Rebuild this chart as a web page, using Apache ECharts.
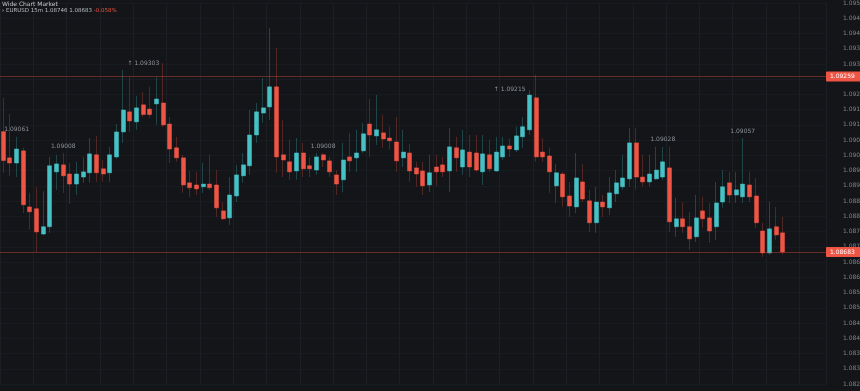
<!DOCTYPE html>
<html>
<head>
<meta charset="utf-8">
<script src="https://cdn.jsdelivr.net/npm/echarts@6/dist/echarts.min.js"></script>
<style>
html,body{margin:0;padding:0;background:#131518;}
#chart{width:860px;height:391px;}
</style>
</head>
<body>
<div id="chart"></div>
<script>
// ---- data ----
var opens = [1.09078,1.08992,1.08975,1.09015,1.08831,1.08825,1.08742,1.08766,1.08946,1.08969,
1.08939,1.08906,1.08929,1.08943,1.09002,1.08956,1.08943,1.08995,1.09077,1.09143,
1.09110,1.09166,1.09152,1.09169,1.09172,1.09103,1.09025,1.08992,1.08910,1.08903,
1.08897,1.08906,1.08903,1.08818,1.08795,1.08867,1.08933,1.08966,1.09067,1.09139,
1.09159,1.09225,1.09002,1.08979,1.08949,1.09008,1.08966,1.08952,1.09002,1.08982,
1.08936,1.08920,1.08995,1.08992,1.09015,1.09103,1.09064,1.09074,1.09057,1.09044,
1.08992,1.09008,1.08959,1.08949,1.08903,1.08962,1.08969,1.08949,1.09025,1.08962,
1.09011,1.09008,1.08946,1.09002,1.08949,1.08995,1.09031,1.09018,1.09061,1.09084,
1.09189,1.09011,1.08998,1.08900,1.08939,1.08867,1.08831,1.08913,1.08851,1.08779,
1.08847,1.08828,1.08874,1.08897,1.08923,1.09041,1.08929,1.08913,1.08923,1.08929,
1.08959,1.08766,1.08792,1.08766,1.08733,1.08818,1.08795,1.08766,1.08847,1.08910,
1.08870,1.08864,1.08903,1.08867,1.08752,1.08680,1.08766,1.08746];
var closes = [1.08983,1.08975,1.09021,1.08838,1.08815,1.08749,1.08766,1.08966,1.08972,1.08933,
1.08906,1.08939,1.08946,1.09005,1.08943,1.08939,1.09002,1.09077,1.09149,1.09113,
1.09156,1.09134,1.09134,1.09185,1.09100,1.09021,1.08992,1.08903,1.08894,1.08890,
1.08906,1.08894,1.08828,1.08792,1.08870,1.08936,1.08969,1.09067,1.09143,1.09156,
1.09225,1.08995,1.08985,1.08946,1.09008,1.08956,1.08956,1.08995,1.08985,1.08946,
1.08906,1.08985,1.08982,1.09008,1.09071,1.09067,1.09084,1.09054,1.09048,1.08982,
1.09011,1.08949,1.08939,1.08900,1.08943,1.08946,1.08946,1.09028,1.08992,1.09018,
1.08962,1.08952,1.09005,1.08956,1.09011,1.09031,1.09021,1.09064,1.09094,1.09198,
1.08995,1.08995,1.08946,1.08943,1.08864,1.08834,1.08926,1.08857,1.08779,1.08847,
1.08831,1.08877,1.08910,1.08926,1.09041,1.08929,1.08913,1.08939,1.08952,1.08979,
1.08782,1.08792,1.08766,1.08726,1.08795,1.08792,1.08752,1.08844,1.08897,1.08870,
1.08887,1.08906,1.08864,1.08779,1.08680,1.08759,1.08739,1.08683];
var lows = [1.08943,1.08933,1.08929,1.08811,1.08756,1.08683,1.08739,1.08746,1.08887,1.08877,
1.08841,1.08870,1.08910,1.08910,1.08913,1.08913,1.08913,1.08989,1.09041,1.09077,
1.09084,1.09126,1.09123,1.09100,1.09094,1.08975,1.08979,1.08877,1.08864,1.08870,
1.08877,1.08887,1.08798,1.08788,1.08772,1.08847,1.08910,1.08936,1.09041,1.09107,
1.09116,1.08943,1.08929,1.08920,1.08920,1.08929,1.08929,1.08936,1.08962,1.08929,
1.08870,1.08880,1.08946,1.08946,1.09008,1.08995,1.09034,1.09025,1.09018,1.08946,
1.08962,1.08913,1.08897,1.08870,1.08880,1.08900,1.08929,1.08880,1.08946,1.08936,
1.08929,1.08946,1.08903,1.08946,1.08946,1.08985,1.08995,1.09011,1.09025,1.09067,
1.08979,1.08979,1.08877,1.08844,1.08831,1.08798,1.08811,1.08847,1.08749,1.08746,
1.08798,1.08805,1.08847,1.08887,1.08897,1.08887,1.08897,1.08897,1.08920,1.08920,
1.08749,1.08733,1.08746,1.08690,1.08716,1.08762,1.08713,1.08723,1.08828,1.08844,
1.08844,1.08844,1.08847,1.08762,1.08667,1.08674,1.08723,1.08674];
var highs = [1.09189,1.09136,1.09061,1.09025,1.08877,1.08897,1.08883,1.08995,1.09002,1.09008,
1.08975,1.08979,1.08995,1.09057,1.09064,1.08985,1.09028,1.09103,1.09280,1.09257,
1.09195,1.09208,1.09225,1.09257,1.09303,1.09126,1.09061,1.09002,1.08949,1.08946,
1.08975,1.09002,1.08952,1.08847,1.08929,1.08969,1.09008,1.09149,1.09172,1.09254,
1.09418,1.09353,1.09116,1.09051,1.09057,1.09041,1.08995,1.09008,1.09008,1.08995,
1.08952,1.09041,1.09074,1.09084,1.09107,1.09185,1.09198,1.09133,1.09094,1.09126,
1.09084,1.09038,1.08979,1.08979,1.09002,1.09002,1.08995,1.09090,1.09061,1.09084,
1.09067,1.09067,1.09067,1.09051,1.09061,1.09061,1.09057,1.09094,1.09126,1.09215,
1.09264,1.09057,1.09025,1.08972,1.08946,1.08913,1.09008,1.08972,1.08887,1.08897,
1.08870,1.08929,1.08952,1.09002,1.09090,1.09090,1.09002,1.09002,1.09028,1.09028,
1.09028,1.08861,1.08847,1.08815,1.08870,1.08864,1.08844,1.08913,1.08952,1.08946,
1.08946,1.09057,1.08946,1.08926,1.08779,1.08847,1.08831,1.08798];
var refLevel = 1.09259;          // upper horizontal level
var annIdx = [2, 9, 24, 48, 79, 99, 111];   // candles carrying a small high label
var yMin = 1.0825, yMax = 1.0950, yStep = 0.0005;
var emptySlots = 6;              // blank space to the right of the last candle

// categories (15-minute bars)
var categories = [];
for (var i = 0; i < opens.length + emptySlots; i++) {
  var m = 9 * 60 + i * 15;
  var hh = Math.floor(m / 60) % 24, mm = m % 60;
  categories.push((hh < 10 ? '0' : '') + hh + ':' + (mm < 10 ? '0' : '') + mm);
}

var UP = '#46c2c6', DOWN = '#ef5545';
var wickData = opens.map(function (o, k) { return [o, closes[k], lows[k], highs[k]]; });
var bodyData = opens.map(function (o, k) {
  return [o, closes[k], Math.min(o, closes[k]), Math.max(o, closes[k])];
});
var lastClose = closes[closes.length - 1];

var markPts = annIdx.map(function (k) {
  var side = (k === 24 || k === 79) ? 'left' : 'top';
  return {
    coord: [k, highs[k]],
    value: highs[k],
    label: { position: side, formatter: (side === 'left' ? '\u2191 ' : '') + highs[k].toFixed(5) }
  };
});

var lvlLabel = {
  position: 'end', distance: 0,
  formatter: function (p) { return Number(p.value).toFixed(5); },
  backgroundColor: '#ef5545', color: '#ffffff',
  fontSize: 6, fontFamily: 'DejaVu Sans', padding: [2, 9, 2, 4], borderRadius: 1
};
var lvlLine = { color: 'rgba(239,85,69,0.38)', type: 'solid', width: 1 };

var chart = echarts.init(document.getElementById('chart'), null, { renderer: 'canvas' });
chart.setOption({
  backgroundColor: '#131518',
  animation: false,
  title: {
    text: 'Wide Chart Market',
    left: 2, top: 1, itemGap: 1, padding: 0,
    textStyle: { color: '#c3c6cb', fontSize: 6, fontWeight: 'normal', fontFamily: 'DejaVu Sans' },
    subtext: '{a|\u203a EURUSD 15m 1.08746 1.08683} {b|-0.058%}',
    subtextStyle: {
      fontSize: 5.5, fontFamily: 'DejaVu Sans',
      rich: {
        a: { color: '#b9bcc2', fontSize: 5.5, fontFamily: 'DejaVu Sans' },
        b: { color: '#ef5545', fontSize: 5.5, fontFamily: 'DejaVu Sans' }
      }
    }
  },
  grid: { left: 0, right: 34, top: 3, bottom: 7, containLabel: false, outerBoundsMode: 'none' },
  xAxis: {
    type: 'category',
    data: categories,
    boundaryGap: true,
    axisLine: { show: false },
    axisTick: { show: false },
    axisLabel: { show: false },
    splitLine: { show: true, interval: 4, lineStyle: { color: '#1b1e23', width: 1 } }
  },
  yAxis: {
    type: 'value',
    position: 'right',
    min: yMin, max: yMax, interval: yStep,
    scale: true,
    axisLine: { show: false },
    axisTick: { show: false },
    axisLabel: {
      margin: 17, color: '#7f848a', fontSize: 6, fontFamily: 'DejaVu Sans',
      formatter: function (v) { return v.toFixed(5); }
    },
    splitLine: { show: true, lineStyle: { color: '#181b1f', width: 1 } }
  },
  series: [
    {
      name: 'wick',
      type: 'candlestick',
      data: wickData,
      barWidth: 1,
      silent: true,
      itemStyle: {
        color: 'rgba(70,194,198,0.28)', color0: 'rgba(239,85,69,0.28)',
        borderColor: 'rgba(70,194,198,0.28)', borderColor0: 'rgba(239,85,69,0.28)',
        borderWidth: 1
      }
    },
    {
      name: 'body',
      type: 'candlestick',
      data: bodyData,
      barWidth: 4.5,
      itemStyle: {
        color: UP, color0: DOWN, borderColor: UP, borderColor0: DOWN, borderWidth: 0.5
      },
      markPoint: {
        symbol: 'circle', symbolSize: 0,
        silent: true,
        label: { color: '#8e9298', fontSize: 6, fontFamily: 'DejaVu Sans', distance: 4 },
        data: markPts
      }
    },
    {
      name: 'levels',
      type: 'line',
      data: [],
      silent: true,
      markLine: {
        symbol: 'none',
        silent: true,
        precision: 5,
        animation: false,
        lineStyle: lvlLine,
        label: lvlLabel,
        data: [
          { yAxis: refLevel, lineStyle: lvlLine },
          { yAxis: lastClose, lineStyle: lvlLine }
        ]
      }
    }
  ]
});
</script>
</body>
</html>
